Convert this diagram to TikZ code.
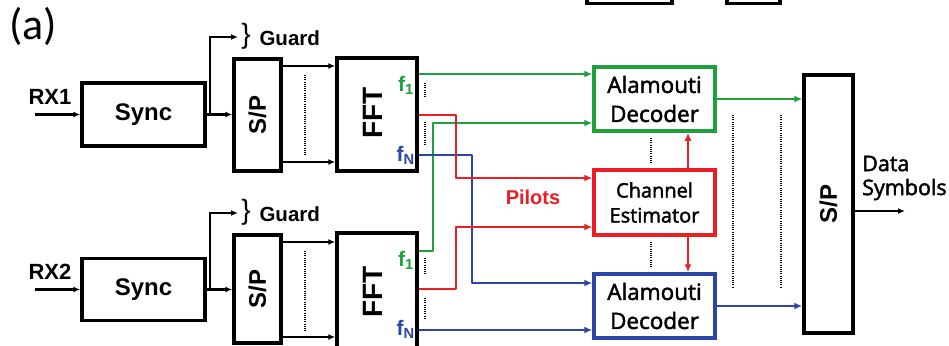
\documentclass[tikz,border=0pt]{standalone}
\usepackage{fontspec}
\setmainfont{Liberation Sans}
\newfontfamily\calib{Carlito}
\newfontfamily\osans[FakeBold=2]{Open Sans}
\usetikzlibrary{arrows.meta}
\definecolor{cgreen}{RGB}{30,160,60}
\definecolor{cred}{RGB}{235,30,35}
\definecolor{cblue}{RGB}{45,70,165}
\begin{document}
\begin{tikzpicture}[x=1pt,y=-1pt,
  blk/.style={draw=black, line width=3.5pt, fill=white, inner sep=0pt},
  cblk/.style={line width=3.5pt, fill=white, inner sep=0pt, minimum width=121pt, minimum height=64pt, align=center},
  lbl/.style={font=\fontsize{24}{24}\selectfont\bfseries},
  arr/.style={line width=2.3pt, -{Latex[length=7pt,width=6pt]}},
  carr/.style={line width=2.8pt, line join=round, -{Latex[length=8pt,width=7pt]}},
  dots/.style={line width=1.8pt, dash pattern=on 1pt off 1.2pt},
  flbl/.style={font=\fontsize{21}{21}\selectfont\bfseries, inner sep=0pt, anchor=east}]
\useasboundingbox (0,0) rectangle (949,345);

% cut-off boxes at the top
\draw[line width=3.5pt] (587,-10) rectangle (672,3.5);
\draw[line width=3.5pt] (727,-10) rectangle (780,3.5);

\node[font=\calib\fontsize{44}{44}\selectfont] (lab) at (33,26) {(a)};

% branch 1
\node[blk, lbl, minimum width=123pt, minimum height=63pt] (sync1) at (143.5,114.5) {Sync};
\node[blk, lbl, minimum width=47pt, minimum height=112pt] (sp1) at (257.5,115) {\rotatebox{90}{S/P}};
\node[blk, minimum width=80pt, minimum height=113pt] (fft1) at (377,114.5) {};
\node[font=\fontsize{28}{28}\selectfont\bfseries] (fftt1) at (373,113) {\rotatebox{90}{FFT}};
\node[font=\fontsize{22}{22}\selectfont\bfseries] (rx1l) at (50,97) {RX1};
\coordinate (rx1) at (35,114.5);
\draw[arr] (rx1) -- (sync1.west);
\draw[arr] (sync1.east) -- (sync1.east -| sp1.west);
\coordinate (j1) at (210,114.5);
\coordinate (g1) at (238,37);
\draw[arr] (j1) |- (g1);
\node[font=\fontsize{28}{28}\selectfont] (br1) at (246,36) {\}};
\node[font=\fontsize{20.5}{20.5}\selectfont\bfseries, anchor=west] (gd1) at (256,38) {Guard};
\draw[arr] (sp1.east |- 0,66) -- (fft1.west |- 0,66);
\draw[arr] (sp1.east |- 0,162) -- (fft1.west |- 0,162);
\draw[dots] (305,75) -- (305,155);

% branch 2
\node[blk, lbl, minimum width=123pt, minimum height=62pt] (sync2) at (143.5,289.5) {Sync};
\node[blk, lbl, minimum width=47pt, minimum height=108pt] (sp2) at (257.5,289) {\rotatebox{90}{S/P}};
\node[blk, minimum width=80pt, minimum height=117pt] (fft2) at (377,291.5) {};
\node[font=\fontsize{28}{28}\selectfont\bfseries] (fftt2) at (373,292) {\rotatebox{90}{FFT}};
\node[font=\fontsize{22}{22}\selectfont\bfseries] (rx2l) at (50,272) {RX2};
\coordinate (rx2) at (35,289.5);
\draw[arr] (rx2) -- (sync2.west);
\draw[arr] (sync2.east) -- (sync2.east -| sp2.west);
\coordinate (j2) at (210,289.5);
\coordinate (g2) at (238,213);
\draw[arr] (j2) |- (g2);
\node[font=\fontsize{28}{28}\selectfont] (br2) at (246,212) {\}};
\node[font=\fontsize{20.5}{20.5}\selectfont\bfseries, anchor=west] (gd2) at (256,214) {Guard};
\draw[arr] (sp2.east |- 0,242) -- (fft2.west |- 0,242);
\draw[arr] (sp2.east |- 0,337) -- (fft2.west |- 0,337);
\draw[dots] (305,251) -- (305,331);

% f labels
\node[flbl, text=cgreen] (f11) at (414,85) {f\textsubscript{1}};
\node[flbl, text=cblue] (fn1) at (415,155) {f\textsubscript{N}};
\node[flbl, text=cgreen] (f12) at (414,260) {f\textsubscript{1}};
\node[flbl, text=cblue] (fn2) at (415,329) {f\textsubscript{N}};
\draw[dots] (425,83) -- (425,98);
\draw[dots] (425,122) -- (425,145);
\draw[dots] (425,258) -- (425,275);
\draw[dots] (425,298) -- (425,319);

% decoder column
\node[cblk, draw=cgreen, font=\osans\fontsize{22.5}{29}\selectfont] (al1) at (654.5,99) {Alamouti\\Decoder};
\node[cblk, draw=cred, minimum height=65pt, font=\osans\fontsize{20}{25}\selectfont] (ce) at (654.5,202.5) {Channel\\Estimator};
\node[cblk, draw=cblue, font=\osans\fontsize{22.5}{29}\selectfont] (al2) at (654.5,306) {Alamouti\\Decoder};
\node[blk, lbl, minimum width=49pt, minimum height=258pt] (bsp) at (828.5,204) {\rotatebox{90}{S/P}};

% coloured connectors
\draw[carr, cgreen] (fft1.east |- 0,74) -- (al1.west |- 0,74);
\draw[carr, cgreen] (fft2.east |- 0,251) -| (433,123) -- (al1.west |- 0,123);
\draw[carr, cblue] (fft1.east |- 0,155) -| (472,283) -- (al2.west |- 0,283);
\draw[carr, cblue] (fft2.east |- 0,330) -- (al2.west |- 0,330);
\draw[carr, cred] (fft1.east |- 0,115) -| (456,178) -- (ce.west |- 0,178);
\draw[carr, cred] (fft2.east |- 0,289) -| (456,227) -- (ce.west |- 0,227);
\node[font=\fontsize{20}{20}\selectfont\bfseries, text=cred] (pil) at (533,197) {Pilots};

\draw[carr, cred] (ce.north -| 688,0) -- (al1.south -| 688,0);
\draw[carr, cred] (ce.south -| 688,0) -- (al2.north -| 688,0);
\draw[dots] (651,138) -- (651,163);
\draw[dots] (651,242) -- (651,267);

\draw[carr, cgreen] (al1.east) -- (al1.east -| bsp.west);
\draw[carr, cblue] (al2.east) -- (al2.east -| bsp.west);
\draw[dots] (733,115) -- (733,288);
\draw[dots] (781,115) -- (781,288);

\coordinate (out) at (905,211);
\draw[arr, line width=2.6pt] (bsp.east |- out) -- (out);
\node[font=\osans\fontsize{21.5}{24}\selectfont, align=left, anchor=west, inner sep=0pt] (ds) at (862,178) {Data\\Symbols};
\end{tikzpicture}
\end{document}
